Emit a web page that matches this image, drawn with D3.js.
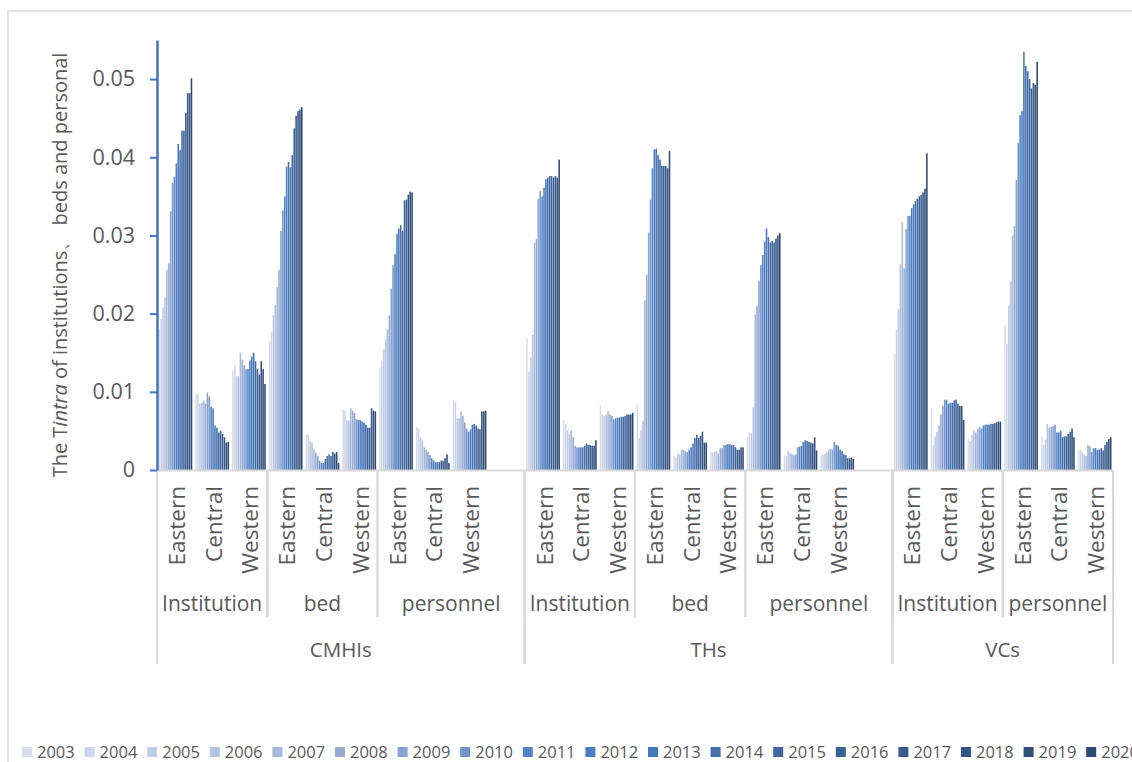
<!DOCTYPE html>
<html><head><meta charset="utf-8">
<script src="https://cdn.jsdelivr.net/npm/d3@7"></script>
<style>body{margin:0;background:#fff}svg{display:block}</style>
</head><body><svg id="c" width="1132" height="762"></svg>
<script>
// ---------- data ----------
const years = [2003,2004,2005,2006,2007,2008,2009,2010,2011,2012,2013,2014,2015,2016,2017,2018,2019,2020];
const regions = ["Eastern","Central","Western"];
const yTicks = [0,0.01,0.02,0.03,0.04,0.05];

const cmhiInstitution = [
  [0.0180,0.0193,0.0208,0.0221,0.0256,0.0264,0.0331,0.0367,0.0375,0.0392,0.0417,0.0409,0.0434,0.0434,0.0457,0.0482,0.0482,0.0501],
  [0.0096,0.0098,0.0085,0.0086,0.0089,0.0085,0.0099,0.0094,0.0081,0.0079,0.0057,0.0054,0.0048,0.0050,0.0046,0.0042,0.0035,0.0036],
  [0.0127,0.0134,0.0120,0.0120,0.0150,0.0141,0.0134,0.0129,0.0129,0.0140,0.0145,0.0150,0.0139,0.0129,0.0122,0.0139,0.0129,0.0110]
];
const cmhiBed = [
  [0.0165,0.0177,0.0198,0.0211,0.0234,0.0256,0.0306,0.0332,0.0350,0.0388,0.0394,0.0387,0.0403,0.0437,0.0453,0.0459,0.0461,0.0464],
  [0.0046,0.0045,0.0037,0.0035,0.0026,0.0022,0.0018,0.0012,0.0009,0.0009,0.0014,0.0018,0.0020,0.0018,0.0023,0.0021,0.0023,0.0009],
  [0.0078,0.0076,0.0064,0.0063,0.0079,0.0076,0.0073,0.0065,0.0064,0.0064,0.0062,0.0061,0.0058,0.0054,0.0054,0.0079,0.0076,0.0075]
];
const cmhiPersonnel = [
  [0.0131,0.0140,0.0154,0.0167,0.0180,0.0198,0.0232,0.0262,0.0276,0.0302,0.0309,0.0313,0.0306,0.0345,0.0346,0.0352,0.0356,0.0355],
  [0.0055,0.0053,0.0042,0.0038,0.0029,0.0026,0.0023,0.0019,0.0015,0.0012,0.0010,0.0010,0.0010,0.0012,0.0012,0.0015,0.0020,0.0009],
  [0.0089,0.0087,0.0066,0.0066,0.0075,0.0069,0.0061,0.0053,0.0049,0.0052,0.0058,0.0059,0.0057,0.0053,0.0052,0.0075,0.0075,0.0076]
];
const thInstitution = [
  [0.0168,0.0126,0.0144,0.0173,0.0291,0.0295,0.0347,0.0357,0.0350,0.0361,0.0372,0.0374,0.0376,0.0376,0.0374,0.0376,0.0374,0.0397],
  [0.0064,0.0059,0.0051,0.0046,0.0051,0.0042,0.0031,0.0029,0.0029,0.0029,0.0029,0.0031,0.0034,0.0032,0.0032,0.0031,0.0031,0.0038],
  [0.0083,0.0071,0.0069,0.0071,0.0075,0.0071,0.0069,0.0065,0.0066,0.0067,0.0067,0.0068,0.0068,0.0069,0.0071,0.0071,0.0071,0.0073]
];
const thBed = [
  [0.0085,0.0041,0.0051,0.0063,0.0217,0.0250,0.0304,0.0346,0.0386,0.0410,0.0411,0.0403,0.0397,0.0389,0.0389,0.0389,0.0386,0.0408],
  [0.0018,0.0016,0.0021,0.0020,0.0026,0.0026,0.0024,0.0023,0.0026,0.0029,0.0034,0.0041,0.0045,0.0041,0.0044,0.0049,0.0035,0.0035],
  [0.0023,0.0022,0.0023,0.0024,0.0021,0.0028,0.0028,0.0032,0.0032,0.0033,0.0033,0.0032,0.0032,0.0029,0.0026,0.0026,0.0029,0.0029]
];
const thPersonnel = [
  [0.0042,0.0047,0.0047,0.0080,0.0199,0.0210,0.0242,0.0262,0.0275,0.0292,0.0309,0.0298,0.0291,0.0293,0.0291,0.0296,0.0300,0.0303],
  [0.0019,0.0018,0.0025,0.0021,0.0021,0.0019,0.0020,0.0029,0.0030,0.0031,0.0036,0.0038,0.0037,0.0036,0.0035,0.0034,0.0042,0.0025],
  [0.0019,0.0020,0.0021,0.0023,0.0026,0.0027,0.0026,0.0036,0.0032,0.0031,0.0026,0.0024,0.0020,0.0019,0.0015,0.0015,0.0016,0.0014]
];
const vcInstitution = [
  [0.0149,0.0179,0.0206,0.0263,0.0317,0.0258,0.0308,0.0325,0.0325,0.0335,0.0340,0.0344,0.0347,0.0350,0.0352,0.0355,0.0360,0.0405],
  [0.0079,0.0032,0.0043,0.0049,0.0057,0.0071,0.0082,0.0090,0.0090,0.0085,0.0086,0.0086,0.0089,0.0090,0.0085,0.0082,0.0082,0.0064],
  [0.0040,0.0037,0.0045,0.0051,0.0048,0.0052,0.0055,0.0053,0.0057,0.0058,0.0058,0.0058,0.0059,0.0059,0.0060,0.0061,0.0062,0.0062]
];
const vcPersonnel = [
  [0.0185,0.0161,0.0210,0.0241,0.0300,0.0312,0.0371,0.0418,0.0454,0.0459,0.0535,0.0517,0.0510,0.0500,0.0488,0.0495,0.0493,0.0522],
  [0.0043,0.0032,0.0039,0.0059,0.0054,0.0055,0.0056,0.0058,0.0048,0.0048,0.0050,0.0042,0.0043,0.0043,0.0046,0.0049,0.0053,0.0042],
  [0.0026,0.0026,0.0023,0.0020,0.0018,0.0032,0.0030,0.0023,0.0028,0.0028,0.0026,0.0026,0.0028,0.0025,0.0032,0.0036,0.0040,0.0042]
];

const groups = [
  {name:"CMHIs", subs:[{name:"Institution",data:cmhiInstitution},{name:"bed",data:cmhiBed},{name:"personnel",data:cmhiPersonnel,extra:1}]},
  {name:"THs",   subs:[{name:"Institution",data:thInstitution},{name:"bed",data:thBed},{name:"personnel",data:thPersonnel,extra:1}]},
  {name:"VCs",   subs:[{name:"Institution",data:vcInstitution},{name:"personnel",data:vcPersonnel}]}
];

// ---------- styles ----------
const palette = ["#D6DDEC","#CBD4E8","#C0CCE4","#B3C2DF","#A6B8DA","#97ACD5","#8AA2D0","#7394CB","#5384C6",
                 "#4A7EC2","#4677B9","#4470AE","#4069A4","#3C629A","#395C90","#355586","#314F7C","#2D4872"];
const textCol = "#595959", gridCol = "#d9d9d9", axisBlue = "#4472C4";
const FONT = "'Open Sans', 'Noto Sans', sans-serif";

const svg = d3.select("#c");
svg.append("rect").attr("x",8).attr("y",11).attr("width",1200).attr("height",800)
   .attr("fill","#fff").attr("stroke",gridCol).attr("stroke-width",1.5);

// ---------- slots ----------
const slots = [];
groups.forEach((g,gi)=>g.subs.forEach((s,si)=>{
  regions.forEach((r,ri)=>slots.push({key:`${gi}-${si}-${ri}`,g:gi,s:si,region:r,values:s.data[ri]}));
  for(let k=0;k<(s.extra||0);k++) slots.push({key:`${gi}-${si}-x${k}`,g:gi,s:si,region:"",values:null});
}));

const x0 = 157, x1 = 1113, yBase = 470, yTop = 40;
const x = d3.scaleBand().domain(slots.map(d=>d.key)).range([x0,x1]).padding(0);
const xi = d3.scaleBand().domain(years).range([0,x.bandwidth()]).paddingInner(0.18).paddingOuter(0.8);
const y = d3.scaleLinear().domain([0,0.055]).range([yBase,yTop]);

// bars
const slotG = svg.append("g").selectAll("g").data(slots.filter(d=>d.values)).join("g")
  .attr("transform",d=>`translate(${x(d.key)},0)`);
slotG.selectAll("rect").data(d=>d.values.map((v,i)=>({v,i}))).join("rect")
  .attr("x",d=>xi(years[d.i])).attr("width",xi.bandwidth())
  .attr("y",d=>y(d.v)).attr("height",d=>y(0)-y(d.v))
  .attr("fill",d=>palette[d.i]);

// x axis baseline
svg.append("line").attr("x1",x0).attr("x2",x1).attr("y1",yBase+0.5).attr("y2",yBase+0.5)
  .attr("stroke",gridCol).attr("stroke-width",2);

// region labels
svg.append("g").selectAll("text").data(slots.filter(d=>d.region)).join("text")
  .attr("transform",d=>`translate(${x(d.key)+x.bandwidth()/2+1},486) rotate(-90)`)
  .attr("text-anchor","end").attr("dominant-baseline","central")
  .attr("font-family",FONT).attr("font-size",22.5).attr("fill",textCol).text(d=>d.region);

// sub-group spans & group spans
const subSpans = [], grpSpans = [];
groups.forEach((g,gi)=>{
  const gs = slots.filter(d=>d.g===gi);
  grpSpans.push({name:g.name,a:x(gs[0].key),b:x(gs[gs.length-1].key)+x.bandwidth()});
  g.subs.forEach((s,si)=>{
    const ss = gs.filter(d=>d.s===si);
    subSpans.push({name:s.name,a:x(ss[0].key),b:x(ss[ss.length-1].key)+x.bandwidth()});
  });
});
const divG = svg.append("g").attr("stroke",gridCol).attr("stroke-width",2);
subSpans.forEach(s=>{
  [s.a,s.b].forEach(xx=>divG.append("line").attr("x1",xx).attr("x2",xx).attr("y1",yBase).attr("y2",617));
});
grpSpans.forEach(s=>{
  [s.a,s.b].forEach(xx=>divG.append("line").attr("x1",xx).attr("x2",xx).attr("y1",yBase).attr("y2",664));
});
svg.append("g").selectAll("text").data(subSpans).join("text")
  .attr("x",d=>(d.a+d.b)/2).attr("y",611).attr("text-anchor","middle")
  .attr("font-family",FONT).attr("font-size",21).attr("fill",textCol).text(d=>d.name);
svg.append("g").selectAll("text").data(grpSpans).join("text")
  .attr("x",d=>(d.a+d.b)/2).attr("y",657).attr("text-anchor","middle")
  .attr("font-family",FONT).attr("font-size",20.5).attr("fill",textCol).text(d=>d.name);

// y axis
const yAxis = svg.append("g").attr("transform",`translate(${x0},0)`)
  .call(d3.axisLeft(y).tickValues(yTicks).tickSize(7).tickSizeOuter(0).tickPadding(15)
        .tickFormat(d=>d===0?"0":d3.format(".2f")(d)));
yAxis.select(".domain").attr("stroke",axisBlue).attr("stroke-width",2.5);
yAxis.selectAll(".tick line").attr("stroke",axisBlue).attr("stroke-width",2);
yAxis.selectAll(".tick text").attr("font-family",FONT).attr("font-size",21.5).attr("fill",textCol);

// y title
const yt = svg.append("text").attr("transform","translate(67,265) rotate(-90)")
  .attr("text-anchor","middle").attr("font-family",FONT).attr("font-size",20).attr("fill",textCol);
yt.append("tspan").text("The T");
yt.append("tspan").attr("font-style","italic").text("intra");
yt.append("tspan").text(" of institutions\u3001 beds and personal");

// legend
const lg = svg.append("g").selectAll("g").data(years).join("g")
  .attr("transform",(d,i)=>`translate(${22+i*62.6},747)`);
lg.append("rect").attr("width",10).attr("height",10).attr("fill",(d,i)=>palette[i]);
lg.append("text").attr("x",15).attr("y",10.5).attr("font-family",FONT).attr("font-size",16.5)
  .attr("fill",textCol).text(d=>d);
</script></body></html>
